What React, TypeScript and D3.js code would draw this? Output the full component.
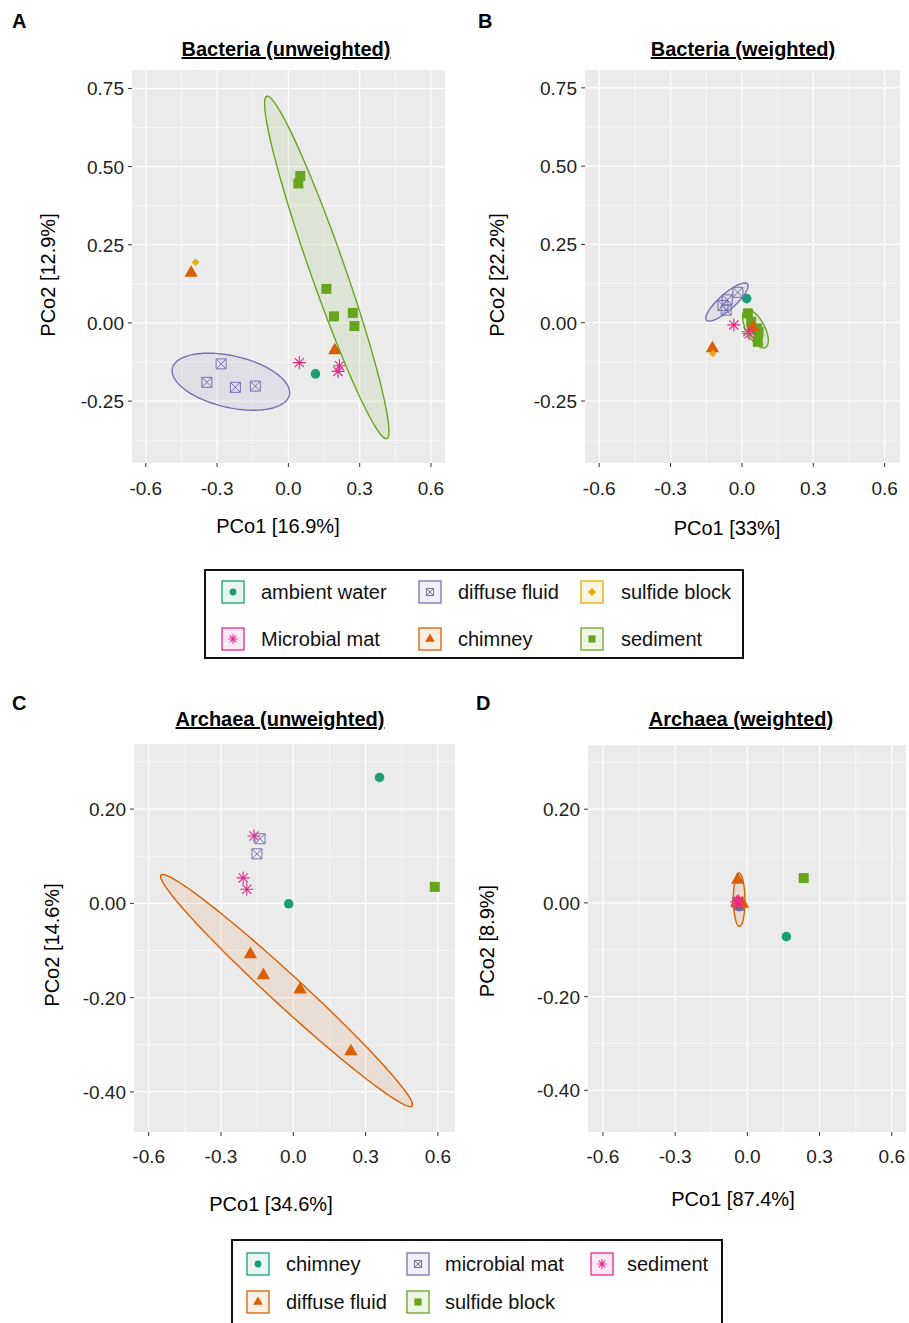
import React from 'react';
import * as d3 from 'd3';

// --- legend groups ---
const bactLabels = ['ambient water', 'diffuse fluid', 'sulfide block', 'Microbial mat', 'chimney', 'sediment'];
const bactColors = ['#1B9E77', '#7570B3', '#E6AB02', '#E7298A', '#D95F02', '#66A61E'];
const bactShapes = ['circle', 'boxx', 'diamond', 'star', 'triangle', 'square'];

const archLabels = ['chimney', 'microbial mat', 'sediment', 'diffuse fluid', 'sulfide block'];
const archColors = ['#1B9E77', '#7570B3', '#E7298A', '#D95F02', '#66A61E'];
const archShapes = ['circle', 'boxx', 'star', 'triangle', 'square'];

// --- ticks ---
const xTicks = [-0.6, -0.3, 0, 0.3, 0.6];
const bactYTicks = [0.75, 0.5, 0.25, 0, -0.25];
const archYTicks = [0.2, 0, -0.2, -0.4];

// --- points: [group, PCo1, PCo2] ---
const bactUnwPoints: [string, number, number][] = [
  ['sediment', 0.050, 0.470], ['sediment', 0.042, 0.446], ['sediment', 0.160, 0.109],
  ['sediment', 0.192, 0.021], ['sediment', 0.271, 0.032], ['sediment', 0.278, -0.010],
  ['diffuse fluid', -0.283, -0.131], ['diffuse fluid', -0.343, -0.190],
  ['diffuse fluid', -0.223, -0.206], ['diffuse fluid', -0.139, -0.202],
  ['chimney', -0.409, 0.160], ['chimney', 0.195, -0.088],
  ['sulfide block', -0.391, 0.194],
  ['ambient water', 0.114, -0.163],
  ['Microbial mat', 0.046, -0.127], ['Microbial mat', 0.215, -0.137], ['Microbial mat', 0.209, -0.155],
];

const bactWPoints: [string, number, number][] = [
  ['sediment', 0.025, 0.030], ['sediment', 0.039, 0.003], ['sediment', 0.063, -0.018],
  ['sediment', 0.067, -0.061], ['sediment', 0.070, -0.030],
  ['diffuse fluid', -0.017, 0.097], ['diffuse fluid', -0.062, 0.073],
  ['diffuse fluid', -0.080, 0.055], ['diffuse fluid', -0.066, 0.040],
  ['chimney', -0.124, -0.082], ['chimney', 0.045, -0.015],
  ['sulfide block', -0.122, -0.098],
  ['ambient water', 0.020, 0.077],
  ['Microbial mat', -0.034, -0.007], ['Microbial mat', 0.025, -0.029], ['Microbial mat', 0.030, -0.035],
];

const archUnwPoints: [string, number, number][] = [
  ['chimney', 0.358, 0.267], ['chimney', -0.019, -0.001],
  ['sediment', -0.163, 0.143], ['sediment', -0.208, 0.054], ['sediment', -0.193, 0.030],
  ['microbial mat', -0.138, 0.137], ['microbial mat', -0.151, 0.105],
  ['sulfide block', 0.587, 0.035],
  ['diffuse fluid', -0.178, -0.108], ['diffuse fluid', -0.124, -0.153],
  ['diffuse fluid', 0.028, -0.183], ['diffuse fluid', 0.239, -0.314],
];

const archWPoints: [string, number, number][] = [
  ['sulfide block', 0.234, 0.053],
  ['chimney', 0.162, -0.072], ['chimney', -0.033, -0.008],
  ['microbial mat', -0.040, 0.000], ['microbial mat', -0.035, -0.005],
  ['diffuse fluid', -0.040, 0.049], ['diffuse fluid', -0.044, 0.000],
  ['diffuse fluid', -0.020, -0.002], ['diffuse fluid', -0.036, 0.002],
  ['sediment', -0.045, 0.002], ['sediment', -0.040, -0.003], ['sediment', -0.038, 0.004],
];

// --- ellipses: [group, centre x, centre y, major-axis end x, end y, minor/major ratio] ---
const bactUnwEllipses: [string, number, number, number, number, number][] = [
  ['sediment', 0.1615, 0.1775, 0.414, -0.370, 0.095],
  ['diffuse fluid', -0.242, -0.188, 0.004, -0.231, 0.43],
];
const bactWEllipses: [string, number, number, number, number, number][] = [
  ['diffuse fluid', -0.063, 0.066, 0.023, 0.124, 0.29],
  ['sediment', 0.057, -0.019, 0.099, -0.079, 0.43],
];
const archUnwEllipses: [string, number, number, number, number, number][] = [
  ['diffuse fluid', -0.028, -0.185, 0.493, -0.430, 0.09],
];
const archWEllipses: [string, number, number, number, number, number][] = [
  ['diffuse fluid', -0.034, 0.007, -0.033, -0.050, 0.215],
];

const FONT = 'Liberation Sans, Arial, Helvetica, sans-serif';
const fmt = (spec: string) => (v: number) => d3.format(spec)(v).replace('\u2212', '-');

function Mark({ shape, color, x, y, s = 1 }: any) {
  const t = `translate(${x},${y})`;
  if (shape === 'circle')
    return <path transform={t} d={d3.symbol(d3.symbolCircle, 72 * s * s)()!} fill={color} />;
  if (shape === 'square')
    return <path transform={t} d={d3.symbol(d3.symbolSquare, 100 * s * s)()!} fill={color} />;
  if (shape === 'triangle')
    return <path transform={t} d={d3.symbol(d3.symbolTriangle, 78 * s * s)()!} fill={color} />;
  if (shape === 'diamond')
    return <path transform={`${t} rotate(45)`} d={d3.symbol(d3.symbolSquare, (s < 1 ? 60 : 28) * s * s)()!} fill={color} />;
  if (shape === 'boxx') {
    const h = 5 * s;
    const p = d3.path();
    p.rect(-h, -h, 2 * h, 2 * h);
    p.moveTo(-h, -h); p.lineTo(h, h);
    p.moveTo(-h, h); p.lineTo(h, -h);
    return <path transform={t} d={p.toString()} fill="none" stroke={color} strokeWidth={1} />;
  }
  // star: plus + times
  const r = 6.5 * s, q = r * 0.7071;
  const p = d3.path();
  p.moveTo(-r, 0); p.lineTo(r, 0);
  p.moveTo(0, -r); p.lineTo(0, r);
  p.moveTo(-q, -q); p.lineTo(q, q);
  p.moveTo(-q, q); p.lineTo(q, -q);
  return <path transform={t} d={p.toString()} fill="none" stroke={color} strokeWidth={1.1} />;
}

function Panel(props: any) {
  const { box, xDom, yDom, yTicks, yFmt, minorY, title, titleX, titleY, letter, letterX, letterY,
    xLab, xLabX, xLabY, yLab, yLabX, yLabY, points, ellipses, labels, colors, shapes } = props;
  const [x0, x1, y0, y1] = box;
  const sx = d3.scaleLinear().domain(xDom).range([x0, x1]);
  const sy = d3.scaleLinear().domain(yDom).range([y1, y0]);
  const minorX = [-0.75, -0.45, -0.15, 0.15, 0.45, 0.75].filter(v => v > xDom[0] && v < xDom[1]);
  const minY = minorY.filter((v: number) => v > yDom[0] && v < yDom[1]);
  const styleOf = (g: string) => {
    const i = labels.indexOf(g);
    return { color: colors[i], shape: shapes[i] };
  };
  const line = d3.line().curve(d3.curveLinearClosed);
  const ellPath = (e: any) => {
    const [, cx, cy, ex, ey, ratio] = e;
    const c = [sx(cx), sy(cy)];
    const u = [sx(ex) - c[0], sy(ey) - c[1]];
    const v = [-u[1] * ratio, u[0] * ratio];
    const pts: [number, number][] = d3.range(0, 120).map(k => {
      const a = (k / 120) * Math.PI * 2;
      return [c[0] + u[0] * Math.cos(a) + v[0] * Math.sin(a), c[1] + u[1] * Math.cos(a) + v[1] * Math.sin(a)];
    });
    return line(pts)!;
  };
  return (
    <g fontFamily={FONT}>
      <text x={letterX} y={letterY} fontSize={20} fontWeight="bold" fill="#000">{letter}</text>
      <text x={titleX} y={titleY} fontSize={20} fontWeight="bold" textAnchor="middle" fill="#000"
        style={{ textDecoration: 'underline' }}>{title}</text>
      <rect x={x0} y={y0} width={x1 - x0} height={y1 - y0} fill="#EBEBEB" />
      {minorX.map(v => <line key={'mx' + v} x1={sx(v)} x2={sx(v)} y1={y0} y2={y1} stroke="#fff" strokeWidth={0.6} />)}
      {minY.map((v: number) => <line key={'my' + v} x1={x0} x2={x1} y1={sy(v)} y2={sy(v)} stroke="#fff" strokeWidth={0.6} />)}
      {xTicks.map(v => <line key={'gx' + v} x1={sx(v)} x2={sx(v)} y1={y0} y2={y1} stroke="#fff" strokeWidth={1.2} />)}
      {yTicks.map((v: number) => <line key={'gy' + v} x1={x0} x2={x1} y1={sy(v)} y2={sy(v)} stroke="#fff" strokeWidth={1.2} />)}
      {ellipses.map((e: any, i: number) => {
        const st = styleOf(e[0]);
        return <path key={'ef' + i} d={ellPath(e)} fill={st.color} fillOpacity={0.1} stroke="none" />;
      })}
      {points.map((p: any, i: number) => {
        const st = styleOf(p[0]);
        return <Mark key={'p' + i} shape={st.shape} color={st.color} x={sx(p[1])} y={sy(p[2])} />;
      })}
      {ellipses.map((e: any, i: number) => {
        const st = styleOf(e[0]);
        return <path key={'es' + i} d={ellPath(e)} fill="none" stroke={st.color} strokeWidth={1.4} />;
      })}
      {xTicks.map(v => (
        <g key={'tx' + v}>
          <line x1={sx(v)} x2={sx(v)} y1={y1} y2={y1 + 4} stroke="#333" strokeWidth={1} />
          <text x={sx(v)} y={y1 + props.xTickDy} fontSize={19} textAnchor="middle" fill="#222">{fmt('.1f')(v)}</text>
        </g>
      ))}
      {yTicks.map((v: number) => (
        <g key={'ty' + v}>
          <line x1={x0 - 4} x2={x0} y1={sy(v)} y2={sy(v)} stroke="#333" strokeWidth={1} />
          <text x={x0 - 8} y={sy(v) + 7} fontSize={19} textAnchor="end" fill="#222">{fmt(yFmt)(v)}</text>
        </g>
      ))}
      <text x={xLabX} y={xLabY} fontSize={20} textAnchor="middle" fill="#000">{xLab}</text>
      <text transform={`translate(${yLabX},${yLabY}) rotate(-90)`} fontSize={20} textAnchor="middle" fill="#000">{yLab}</text>
    </g>
  );
}

function Legend({ box, labels, colors, shapes, keyX, textX, rowY, ncol }: any) {
  const [bx, by, bw, bh] = box;
  return (
    <g fontFamily={FONT}>
      <rect x={bx} y={by} width={bw} height={bh} fill="#fff" stroke="#111" strokeWidth={2} />
      {labels.map((l: string, i: number) => {
        const c = i % ncol, r = Math.floor(i / ncol);
        const kx = keyX[c], ky = rowY[r];
        return (
          <g key={l}>
            <rect x={kx - 11} y={ky - 11} width={22} height={22} fill={colors[i]} fillOpacity={0.1}
              stroke={colors[i]} strokeWidth={1.3} />
            <Mark shape={shapes[i]} color={colors[i]} x={kx} y={ky} s={0.72} />
            <text x={textX[c]} y={ky + 7} fontSize={20} fill="#111">{l}</text>
          </g>
        );
      })}
    </g>
  );
}

export default function App() {
  return (
    <svg width={909} height={1323} style={{ position: 'absolute', left: 0, top: 0, background: '#fff' }}>
      <Panel box={[132, 445, 70, 463]} xDom={[-0.658, 0.659]} yDom={[-0.448, 0.809]}
        yTicks={bactYTicks} yFmt=".2f" minorY={[-0.375, -0.125, 0.125, 0.375, 0.625]}
        title="Bacteria (unweighted)" titleX={286} titleY={56} letter="A" letterX={12} letterY={28}
        xLab="PCo1 [16.9%]" xLabX={278} xLabY={533} yLab="PCo2 [12.9%]" yLabX={55} yLabY={275}
        xTickDy={32} points={bactUnwPoints} ellipses={bactUnwEllipses}
        labels={bactLabels} colors={bactColors} shapes={bactShapes} />
      <Panel box={[585, 900, 70, 463]} xDom={[-0.6597, 0.6646]} yDom={[-0.448, 0.807]}
        yTicks={bactYTicks} yFmt=".2f" minorY={[-0.375, -0.125, 0.125, 0.375, 0.625]}
        title="Bacteria (weighted)" titleX={743} titleY={56} letter="B" letterX={478} letterY={28}
        xLab="PCo1 [33%]" xLabX={727} xLabY={535} yLab="PCo2 [22.2%]" yLabX={504} yLabY={275}
        xTickDy={32} points={bactWPoints} ellipses={bactWEllipses}
        labels={bactLabels} colors={bactColors} shapes={bactShapes} />
      <Panel box={[134, 455, 744, 1132]} xDom={[-0.661, 0.671]} yDom={[-0.485, 0.338]}
        yTicks={archYTicks} yFmt=".2f" minorY={[-0.5, -0.3, -0.1, 0.1, 0.3]}
        title="Archaea (unweighted)" titleX={280} titleY={726} letter="C" letterX={12} letterY={710}
        xLab="PCo1 [34.6%]" xLabX={271} xLabY={1211} yLab="PCo2 [14.6%]" yLabX={59} yLabY={945}
        xTickDy={31} points={archUnwPoints} ellipses={archUnwEllipses}
        labels={archLabels} colors={archColors} shapes={archShapes} />
      <Panel box={[588, 906, 745, 1132]} xDom={[-0.662, 0.659]} yDom={[-0.489, 0.337]}
        yTicks={archYTicks} yFmt=".2f" minorY={[-0.5, -0.3, -0.1, 0.1, 0.3]}
        title="Archaea (weighted)" titleX={741} titleY={726} letter="D" letterX={476} letterY={710}
        xLab="PCo1 [87.4%]" xLabX={733} xLabY={1206} yLab="PCo2 [8.9%]" yLabX={494} yLabY={941}
        xTickDy={31} points={archWPoints} ellipses={archWEllipses}
        labels={archLabels} colors={archColors} shapes={archShapes} />
      <Legend box={[205, 570, 538, 88]} labels={bactLabels} colors={bactColors} shapes={bactShapes}
        keyX={[233, 430, 592]} textX={[261, 458, 621]} rowY={[592, 639]} ncol={3} />
      <Legend box={[232, 1240, 490, 100]} labels={archLabels} colors={archColors} shapes={archShapes}
        keyX={[258, 418, 602]} textX={[286, 445, 627]} rowY={[1264, 1302]} ncol={3} />
    </svg>
  );
}
